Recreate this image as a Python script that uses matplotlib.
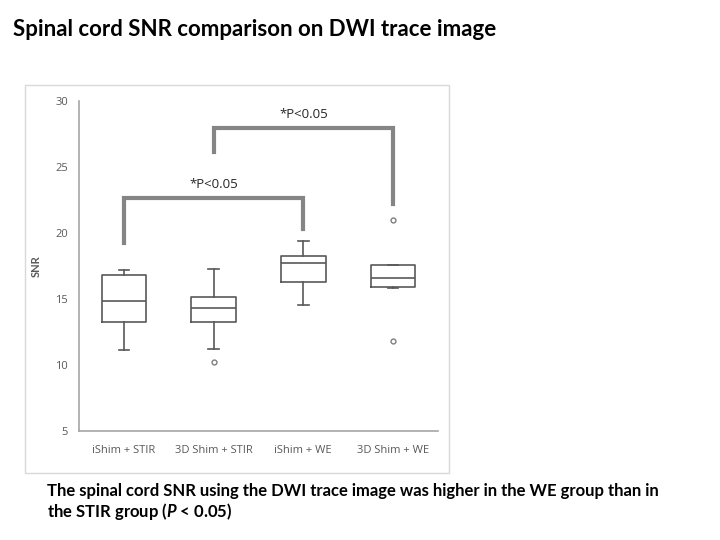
import numpy as np
import matplotlib.pyplot as plt
from matplotlib.patches import Rectangle

plt.rcParams['font.family'] = ['Lato', 'DejaVu Sans']
plt.rcParams['mathtext.fontset'] = 'custom'
plt.rcParams['mathtext.bfit'] = 'Lato:italic:bold'

# Werte
groups = ['iShim + STIR', '3D Shim + STIR', 'iShim + WE', '3D Shim + WE']
whislo = [11.1, 11.2, 14.5, 15.8]
q1 = [13.2, 13.2, 16.25, 15.9]
med = [14.8, 14.3, 17.7, 16.6]
q3 = [16.8, 15.15, 18.25, 17.55]
whishi = [17.15, 17.25, 19.4, 17.55]
fliers = [[], [10.2], [], [21.0, 11.8]]

# Signifikanz-Klammern: (von, bis, Höhe, linkes Ende, rechtes Ende)
brackets = [(1, 3, 22.65, 19.2, 20.3), (2, 4, 27.95, 26.15, 22.15)]
sig_text = '*P<0.05'

stats = []
for i in range(len(groups)):
    stats.append(dict(label=groups[i], whislo=whislo[i], q1=q1[i], med=med[i],
                      q3=q3[i], whishi=whishi[i], fliers=fliers[i]))

fig = plt.figure(figsize=(7.2, 5.4), dpi=100)
ax = fig.add_axes([0.11, 0.2024, 0.498, 0.611])

line_c = '#595959'
ax.bxp(stats, positions=[1, 2, 3, 4], widths=0.5, capwidths=0.12,
       boxprops=dict(color=line_c, linewidth=1.2),
       medianprops=dict(color=line_c, linewidth=1.2),
       whiskerprops=dict(color=line_c, linewidth=1.2),
       capprops=dict(color=line_c, linewidth=1.2),
       flierprops=dict(marker='o', markersize=3.5, markerfacecolor='white',
                       markeredgecolor='#7f7f7f', markeredgewidth=1.0))

for x0, x1, h, y0, y1 in brackets:
    ax.plot([x0, x0, x1, x1], [y0, h, h, y1], color='#858585', linewidth=3,
            solid_joinstyle='miter')
    ax.text((x0 + x1) / 2, h + 0.55, sig_text, ha='center', va='bottom',
            fontsize=9.5, color='#262626', family=['Open Sans', 'DejaVu Sans'])

ax.set_xlim(0.5, 4.5)
ax.set_ylim(5, 30)
ax.set_yticks([5, 10, 15, 20, 25, 30])
ax.tick_params(length=0, labelsize=8, labelcolor='#595959', pad=8)
ax.tick_params(axis='x', pad=10)
for lbl in ax.get_xticklabels() + ax.get_yticklabels():
    lbl.set_family(['Open Sans', 'DejaVu Sans'])
ax.set_ylabel('SNR', fontsize=8, fontweight='bold', color='#595959', labelpad=10)
ax.spines['top'].set_visible(False)
ax.spines['right'].set_visible(False)
ax.spines['left'].set_color('#a6a6a6')
ax.spines['bottom'].set_color('#a6a6a6')
ax.spines['left'].set_linewidth(1.2)
ax.spines['bottom'].set_linewidth(1.2)

# grauer Rahmen um das Diagramm
fig.patches.append(Rectangle((25 / 720, 1 - 473 / 540), 424 / 720, 388 / 540,
                             transform=fig.transFigure, fill=False,
                             edgecolor='#d9d9d9', linewidth=1))

fig.text(13 / 720, 1 - 30 / 540, 'Spinal cord SNR comparison on DWI trace image',
         fontsize=16, fontweight='bold', va='center', ha='left')
fig.text(47 / 720, 1 - 491 / 540,
         'The spinal cord SNR using the DWI trace image was higher in the WE group than in',
         fontsize=12, fontweight='bold', va='center', ha='left')
fig.text(47 / 720, 1 - 511 / 540, 'the STIR group ($\\bfit{P}$ < 0.05)',
         fontsize=12, fontweight='bold', va='center', ha='left')

fig.savefig('out.png', dpi=100)
